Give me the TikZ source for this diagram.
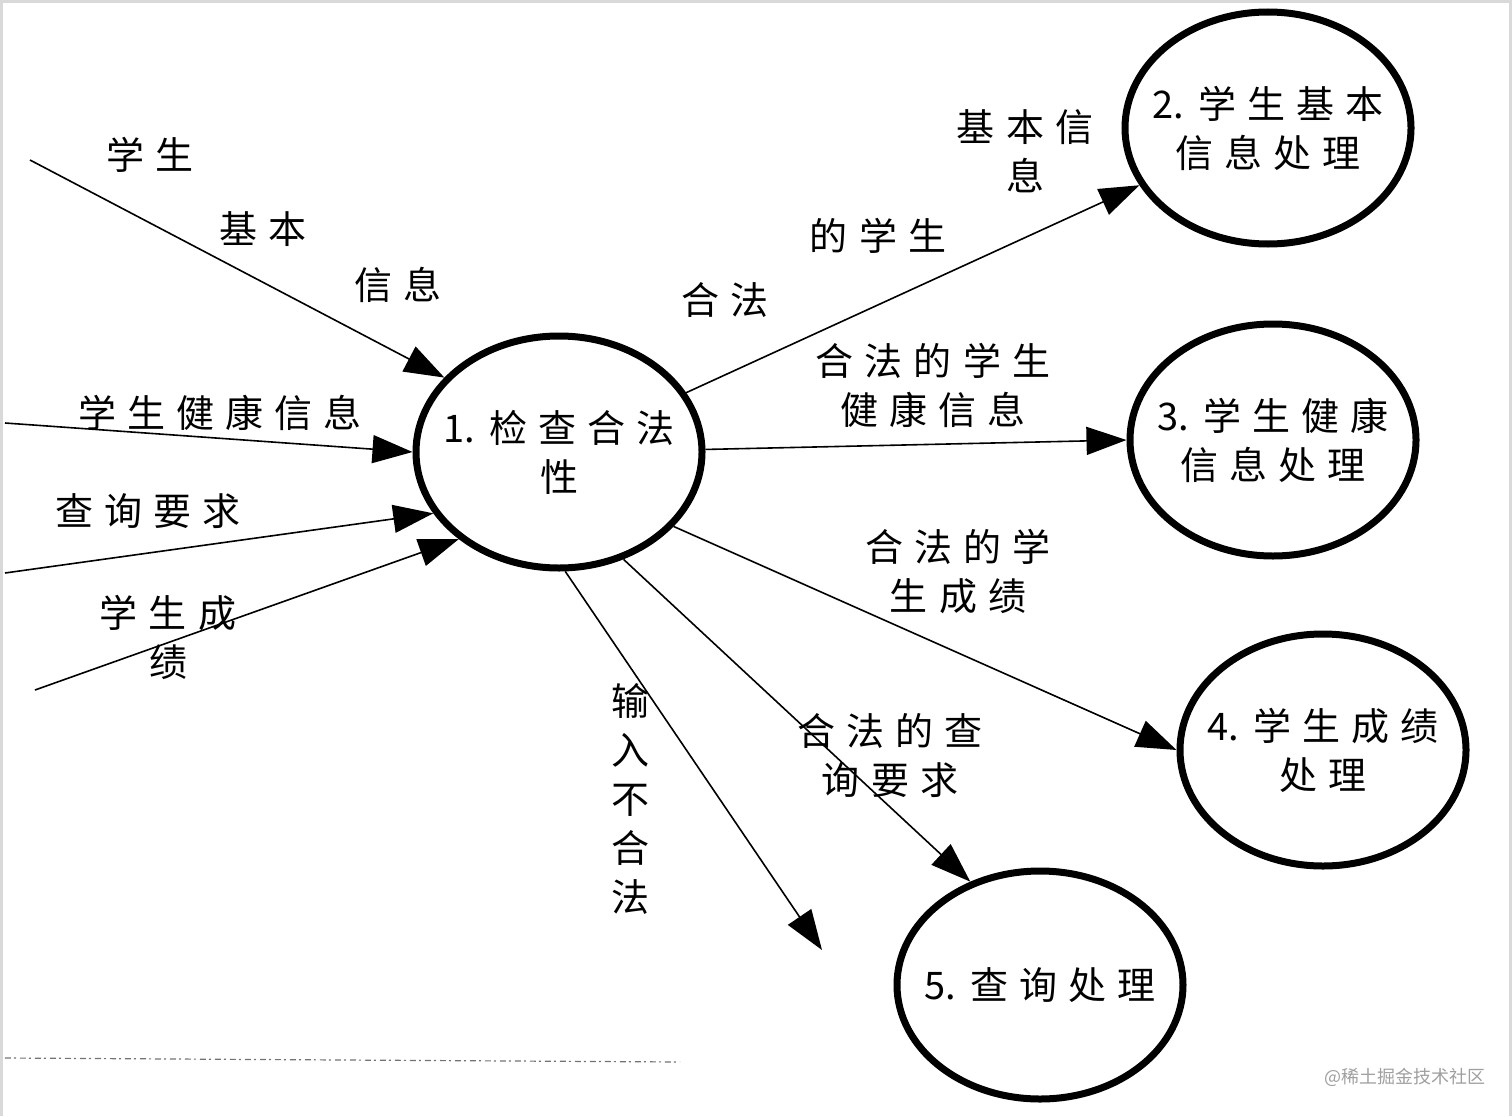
\documentclass[tikz,border=0pt]{standalone}
\usepackage{fontspec}
\newfontfamily\cjk[WordSpace=1.3]{Noto Sans CJK SC}
\usetikzlibrary{arrows.meta,shapes.geometric}

\tikzset{
  proc/.style={draw, ellipse, line width=7pt, minimum width=286pt, minimum height=232pt,
    inner xsep=-25pt, align=center, font=\cjk\fontsize{38}{49}\selectfont},
  flow/.style={line width=1.6pt, -{Triangle[length=40pt,width=28pt]}},
  lbl/.style={align=center, inner sep=0pt, font=\cjk\fontsize{38}{49}\selectfont}
}

\begin{document}
\begin{tikzpicture}[x=1pt,y=-1pt]
\useasboundingbox (0,0) rectangle (1512,1116);
\draw[gray!30, line width=6pt] (0,1116) -- (0,0) -- (1512,0) -- (1512,1116);
\draw[black!55, line width=1.2pt, dash pattern=on 6pt off 3pt on 2pt off 4pt] (5,1058) -- (680,1062);

\node[proc] (chk) at (559,452) {1. 检 查 合 法\\性};
\node[proc] (basic) at (1268,128) {2. 学 生 基 本\\信 息 处 理};
\node[proc] (health) at (1273,440) {3. 学 生 健 康\\信 息 处 理};
\node[proc] (score) at (1323,750) {4. 学 生 成 绩\\处 理};
\node[proc, minimum height=228pt] (query) at (1040,985) {5. 查 询 处 理};

\coordinate (in1) at (30,160);
\coordinate (in2) at (5,423);
\coordinate (in3) at (5,573);
\coordinate (in4) at (35,690);
\coordinate (bad) at (822,950);

\draw[flow] (in1) -- (chk.147);
\draw[flow] (in2) -- (chk.180);
\draw[flow] (in3) -- (chk.206);
\draw[flow] (in4) -- (chk.221.6);
\draw[flow] (chk.25) -- (basic.204);
\draw[flow] (chk.1) -- (health.180);
\draw[flow] (chk.-33) -- (score.180);
\draw[flow] (chk.-59) -- (query.124);
\draw[flow] (chk.-87) -- (bad);

\node[lbl] (l1a) at (150,155) {学 生};
\node[lbl] (l1b) at (263,229) {基 本};
\node[lbl] (l1c) at (398,285) {信 息};
\node[lbl] (l2) at (220,413) {学 生 健 康 信 息};
\node[lbl] (l3) at (148,511) {查 询 要 求};
\node[lbl] (l4) at (168,637) {学 生 成\\绩};
\node[lbl] (o1a) at (725,300) {合 法};
\node[lbl] (o1b) at (878,236) {的 学 生};
\node[lbl] (o1c) at (1025,151) {基 本 信\\息};
\node[lbl] (o2) at (933,385) {合 法 的 学 生\\健 康 信 息};
\node[lbl] (o3) at (958,572) {合 法 的 学\\生 成 绩};
\node[lbl] (o4) at (890,756) {合 法 的 查\\询 要 求};
\node[lbl] (o5) at (630,799) {输\\入\\不\\合\\法};

\node[font=\cjk\fontsize{18}{18}\selectfont, text=gray!75, inner sep=0pt] (mark) at (1405,1077) {@稀土掘金技术社区};
\end{tikzpicture}
\end{document}
